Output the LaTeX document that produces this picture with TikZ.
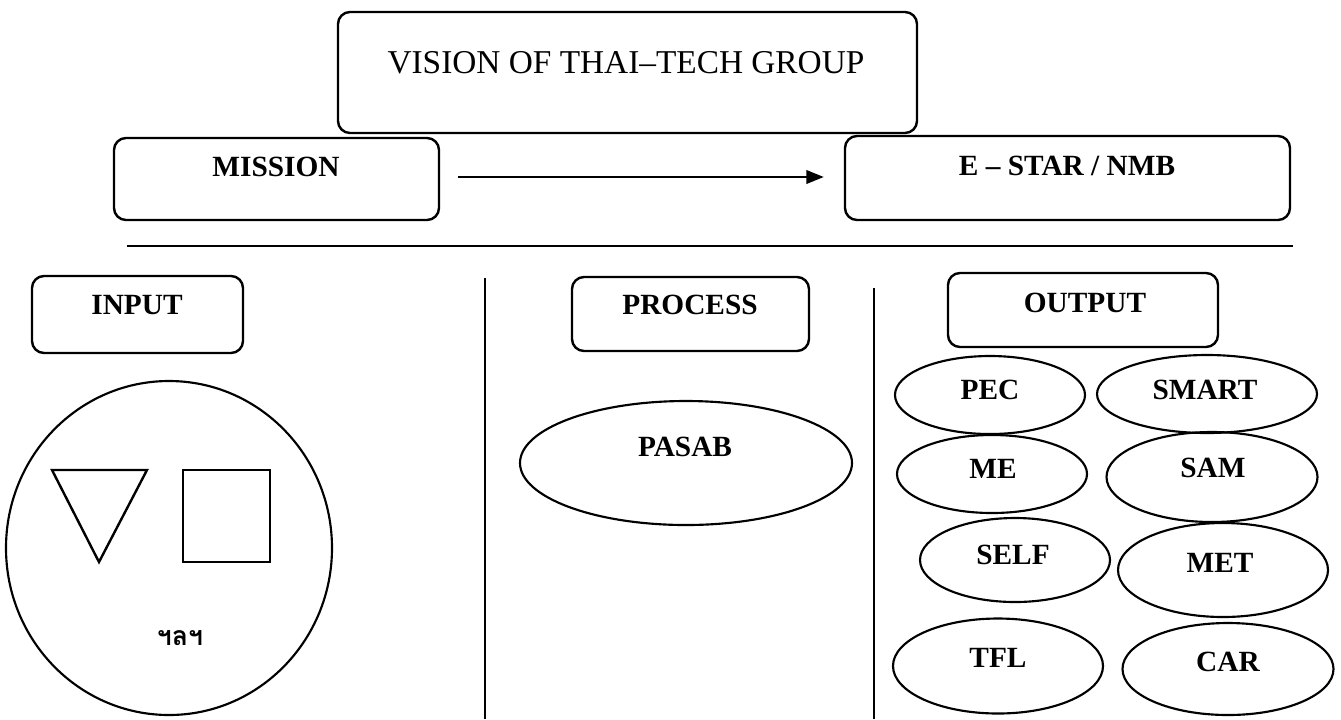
\documentclass[tikz,border=0pt]{standalone}
\usepackage{fontspec}
\setmainfont{Liberation Serif}
\newfontfamily\thaifont[Script=Thai]{Loma}
\usetikzlibrary{shapes.geometric,arrows.meta,fit}

\tikzset{
  stroke/.style={line width=1.8pt, black},
  rbox/.style={stroke, draw, rounded corners=9pt, inner sep=0pt, rectangle},
  oval/.style 2 args={line width=1.6pt, black, draw, ellipse, inner sep=0pt,
    minimum width=#1*0.75pt, minimum height=#2*0.75pt},
  lbl/.style={font=\bfseries\fontsize{22}{26}\selectfont, inner sep=0pt},
  ttl/.style={font=\fontsize{25}{29}\selectfont, inner sep=0pt},
  thai/.style={font=\thaifont\bfseries\fontsize{20}{24}\selectfont, inner sep=0pt},
  rule/.style={line width=1.8pt, black},
}

\begin{document}
\begin{tikzpicture}[x=0.75pt, y=-0.75pt]
\useasboundingbox (0,0) rectangle (1341,719);

% --- top: vision, mission and goal ---
\node[rbox, fit={(338,12) (917,133)}] (vision) {};
\node[ttl] (visiont) at (626,63) {VISION OF THAI–TECH GROUP};

\node[rbox, fit={(114,138) (439,220)}] (mission) {};
\node[lbl] (missiont) at (276,167) {MISSION};

\node[rbox, fit={(845,136) (1290,220)}] (estar) {};
\node[lbl] (estart) at (1067,166) {E – STAR / NMB};

\draw[stroke, -{Triangle[length=13pt, width=10pt]}]
  ([xshift=13.5pt, yshift=1.5pt]mission.east) -- ([xshift=-15pt, yshift=0.75pt]estar.west);

% --- separators ---
\coordinate (hl) at (127,246);
\coordinate (hr) at (1293,246);
\draw[rule] (hl) -- (hr);
\coordinate (v1t) at (485,278);
\coordinate (v1b) at (485,719);
\draw[rule] (v1t) -- (v1b);
\coordinate (v2t) at (874,288);
\coordinate (v2b) at (874,719);
\draw[rule] (v2t) -- (v2b);

% --- input column ---
\node[rbox, fit={(32,276) (243,353)}] (input) {};
\node[lbl] (inputt) at (137,305) {INPUT};
\node[oval={326}{334}] (pool) at (169,548) {};
\draw[stroke, line join=miter] (52,470) -- (147,470) -- (99,562) -- cycle;
\draw[stroke] (183,470) rectangle (270,562);
\node[thai] (etc) at (180,638) {ฯลฯ};

% --- process column ---
\node[rbox, fit={(572,277) (809,351)}] (process) {};
\node[lbl] (processt) at (690,305) {PROCESS};
\node[oval={332}{124}] (pasab) at (686,463) {};
\node[lbl] (pasabt) at (685,447) {PASAB};

% --- output column ---
\node[rbox, fit={(948,273) (1218,347)}] (output) {};
\node[lbl] (outputt) at (1085,303) {OUTPUT};

\node[oval={190}{78}]  (pec)   at (990,395)  {};
\node[lbl] at (990,390)  {PEC};
\node[oval={220}{78}]  (smart) at (1207,394) {};
\node[lbl] at (1205,390) {SMART};
\node[oval={190}{78}]  (me)    at (992,474)  {};
\node[lbl] at (993,469)  {ME};
\node[oval={211}{90}]  (sam)   at (1212,477) {};
\node[lbl] at (1213,468) {SAM};
\node[oval={190}{84}]  (self)  at (1015,560) {};
\node[lbl] at (1013,555) {SELF};
\node[oval={210}{94}]  (met)   at (1223,570) {};
\node[lbl] at (1220,563) {MET};
\node[oval={210}{95}]  (tfl)   at (998,666)  {};
\node[lbl] at (998,658)  {TFL};
\node[oval={211}{92}]  (car)   at (1228,669) {};
\node[lbl] at (1228,662) {CAR};
\end{tikzpicture}
\end{document}
